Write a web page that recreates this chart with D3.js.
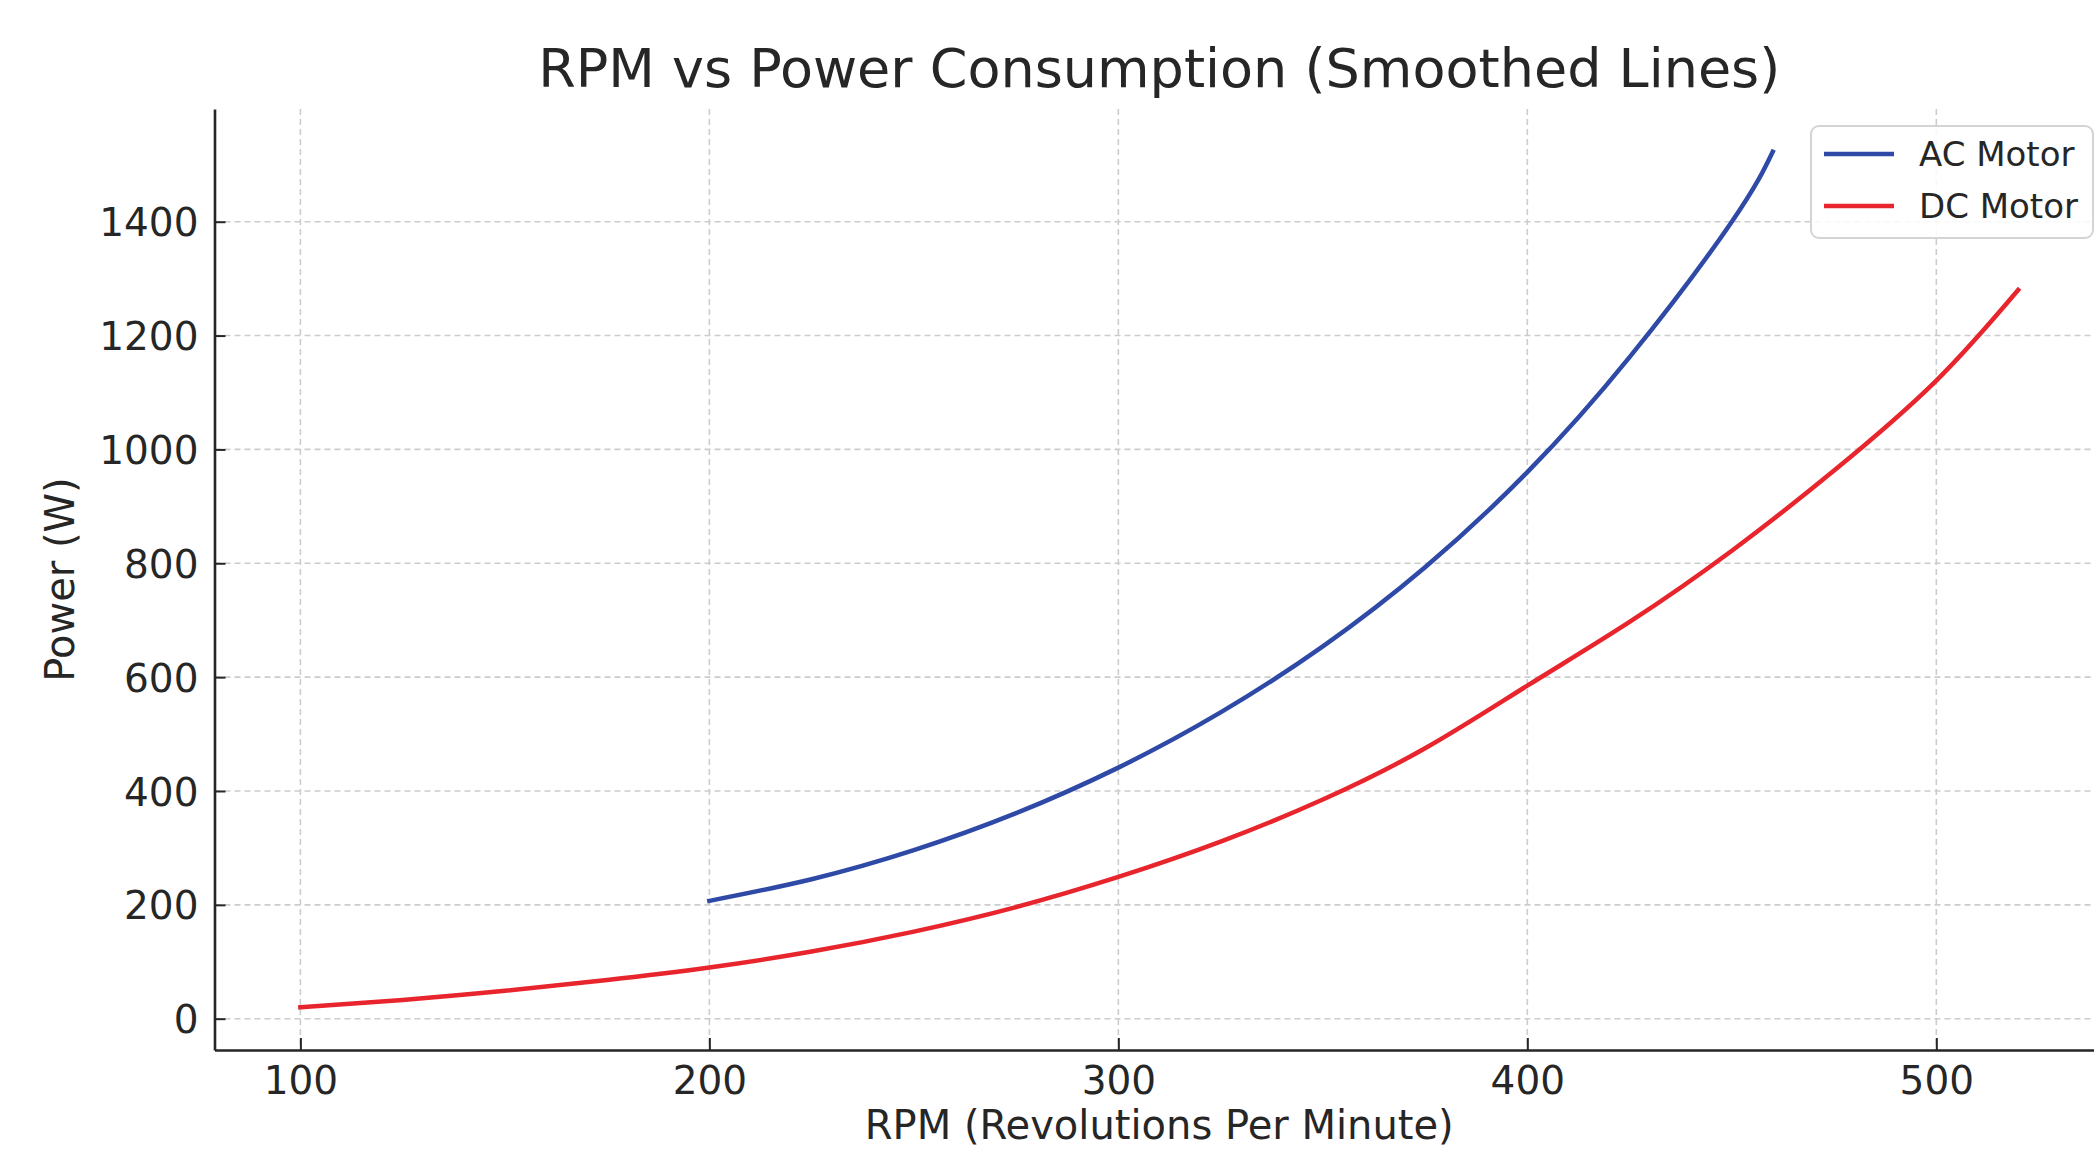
<!DOCTYPE html>
<html>
<head>
<meta charset="utf-8">
<script src="https://cdn.jsdelivr.net/npm/d3@7"></script>
<style>
    body { margin: 0; background: #fff; }
    text { font-family: "DejaVu Sans", sans-serif; fill: #262626; }
</style>
</head>
<body>
<div id="chart"></div>
<script>
const rpmAC = [200, 225, 250, 275, 300, 325, 350, 375, 400, 425, 450, 460];
const powerAC = [207, 245, 296, 361, 441, 538, 654, 793, 960, 1162, 1400, 1523];

const rpmDC = [100, 125, 150, 175, 200, 225, 250, 275, 300, 325, 350, 375, 400, 425, 450, 475, 500, 520];
const powerDC = [20, 33, 49, 68, 90, 118, 153, 196, 249, 311, 385, 475, 585, 697, 822, 963, 1121, 1280];

const xTicks = [100, 200, 300, 400, 500];
const yTicks = [0, 200, 400, 600, 800, 1000, 1200, 1400];

const seriesNames = ["AC Motor", "DC Motor"];
const seriesColors = ["#2f4aa6", "#e8252d"];

const w = 2094,
    h = 1150;

const plot = {left: 214.5, right: 2104, top: 109, bottom: 1050};

const x = d3.scaleLinear().domain([79, 541]).range([plot.left, plot.right]);
const y = d3.scaleLinear().domain([-55, 1598]).range([plot.bottom, plot.top]);

const series = [
    {name: seriesNames[0], color: seriesColors[0], values: rpmAC.map((r, i) => ({rpm: r, power: powerAC[i]}))},
    {name: seriesNames[1], color: seriesColors[1], values: rpmDC.map((r, i) => ({rpm: r, power: powerDC[i]}))}
];

const svg = d3.select("#chart")
    .append("svg")
    .attr("width", w)
    .attr("height", h);

svg.append("defs").append("clipPath")
    .attr("id", "plotClip")
    .append("rect")
    .attr("x", plot.left)
    .attr("y", plot.top)
    .attr("width", plot.right - plot.left)
    .attr("height", plot.bottom - plot.top);

// grid
const grid = svg.append("g").attr("class", "grid")
    .attr("stroke", "#cccccc")
    .attr("stroke-width", 1.6)
    .attr("stroke-dasharray", "6,4");

grid.selectAll("line.gx")
    .data(xTicks)
    .enter().append("line")
    .attr("class", "gx")
    .attr("x1", d => x(d)).attr("x2", d => x(d))
    .attr("y1", plot.top).attr("y2", plot.bottom);

grid.selectAll("line.gy")
    .data(yTicks)
    .enter().append("line")
    .attr("class", "gy")
    .attr("x1", plot.left).attr("x2", plot.right)
    .attr("y1", d => y(d)).attr("y2", d => y(d));

// smoothed lines
const line = d3.line()
    .x(d => x(d.rpm))
    .y(d => y(d.power))
    .curve(d3.curveNatural);

svg.append("g")
    .attr("clip-path", "url(#plotClip)")
    .selectAll("path")
    .data(series)
    .enter().append("path")
    .attr("fill", "none")
    .attr("stroke", d => d.color)
    .attr("stroke-width", 4.5)
    .attr("stroke-linecap", "square")
    .attr("d", d => line(d.values));

// axes (ticks point inwards)
const xAxis = svg.append("g")
    .attr("transform", "translate(0," + plot.bottom + ")")
    .call(d3.axisBottom(x).tickValues(xTicks).tickFormat(d3.format("d"))
        .tickSizeInner(-12).tickSizeOuter(0).tickPadding(14));

const yAxis = svg.append("g")
    .attr("transform", "translate(" + plot.left + ",0)")
    .call(d3.axisLeft(y).tickValues(yTicks).tickFormat(d3.format("d"))
        .tickSizeInner(-11).tickSizeOuter(0).tickPadding(16));

[xAxis, yAxis].forEach(function (a) {
    a.select(".domain").attr("stroke", "#262626").attr("stroke-width", 2.6);
    a.selectAll(".tick line").attr("stroke", "#262626").attr("stroke-width", 2);
    a.selectAll(".tick text")
        .style("font-family", "'DejaVu Sans', sans-serif")
        .style("font-size", "39px")
        .attr("fill", "#262626");
});
xAxis.selectAll(".tick text").attr("dy", "0.76em");
yAxis.selectAll(".tick text").attr("x", -16).attr("dy", "0.36em");

// labels
svg.append("text")
    .attr("x", (plot.left + plot.right) / 2)
    .attr("y", 87)
    .attr("text-anchor", "middle")
    .style("font-size", "54px")
    .text("RPM vs Power Consumption (Smoothed Lines)");

svg.append("text")
    .attr("x", (plot.left + plot.right) / 2)
    .attr("y", 1139)
    .attr("text-anchor", "middle")
    .style("font-size", "40px")
    .text("RPM (Revolutions Per Minute)");

svg.append("text")
    .attr("transform", "translate(74," + ((plot.top + plot.bottom) / 2) + ") rotate(-90)")
    .attr("text-anchor", "middle")
    .style("font-size", "40px")
    .text("Power (W)");

// legend
const legend = svg.append("g").attr("transform", "translate(1811,126)");

legend.append("rect")
    .attr("width", 282)
    .attr("height", 112)
    .attr("rx", 8)
    .attr("fill", "#fff")
    .attr("fill-opacity", 0.85)
    .attr("stroke", "#d4d4d4")
    .attr("stroke-width", 2);

const item = legend.selectAll("g.item")
    .data(series)
    .enter().append("g")
    .attr("class", "item")
    .attr("transform", (d, i) => "translate(0," + (28 + i * 52) + ")");

item.append("line")
    .attr("x1", 13).attr("x2", 83)
    .attr("stroke", d => d.color)
    .attr("stroke-width", 4.5);

item.append("text")
    .attr("x", 108)
    .attr("dy", "0.36em")
    .style("font-size", "34px")
    .text(d => d.name);
</script>
</body>
</html>
